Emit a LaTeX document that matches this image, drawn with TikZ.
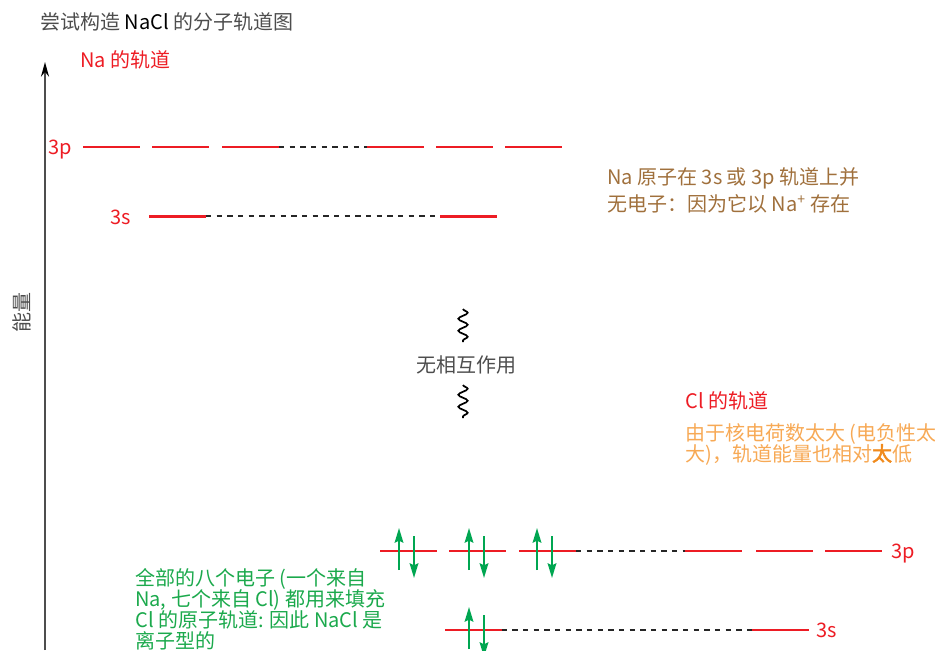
\documentclass[tikz,border=0pt]{standalone}
\usepackage{fontspec}
\setmainfont{Noto Sans CJK SC}
\newfontfamily\boldcjk{Noto Sans CJK SC}[FakeBold=2.5]
\usetikzlibrary{arrows.meta, decorations.pathmorphing}
\definecolor{OrbRed}{RGB}{237,28,36}
\definecolor{NoteBrown}{RGB}{160,112,60}
\definecolor{NoteOrange}{RGB}{247,169,85}
\definecolor{DeepOrange}{RGB}{240,138,28}
\definecolor{NoteGreen}{RGB}{27,169,76}
\definecolor{SpinGreen}{RGB}{0,166,81}
\definecolor{Grey70}{RGB}{77,77,77}

\begin{document}
\begin{tikzpicture}[
  x=0.75pt,
  y=-0.75pt,
  txt/.style={
    font=\fontsize{15}{15.75}\selectfont,
    inner sep=0pt,
    anchor=base west,
    align=left
  },
  bar/.style={
    rectangle,
    fill=OrbRed,
    minimum width=42.75pt,
    minimum height=1.5pt,
    inner sep=0pt,
    outer sep=0pt
  },
  thickbar/.style={bar, minimum height=2.25pt},
  nolink/.style={
    dash pattern=on 4pt off 4pt,
    line width=1.5pt,
    color=black!85
  },
  axis/.style={
    -{Stealth[length=11pt, width=6pt, color=black]},
    line width=1.5pt,
    color=Grey70
  },
  spin/.style={
    -{Stealth[length=11pt, width=6.5pt, inset=1.5pt]},
    line width=1.5pt,
    color=SpinGreen
  },
  wave/.style={
    decorate,
    decoration={snake, amplitude=3.5pt, segment length=9pt},
    line width=1.3pt
  }
]
\useasboundingbox (0,0) rectangle (935,650);

% Energy axis
\coordinate (axbot) at (45,650);
\coordinate (axtop) at (45,62);
\draw[axis] (axbot) -- (axtop);
\node[txt, text=Grey70, rotate=90, anchor=center] (energy) at (22,312) {能量};

% Titles
\node[txt, text=Grey70] (title)   at (40,29) {尝试构造 {\color{black}NaCl} 的分子轨道图};
\node[txt, text=OrbRed] (natitle) at (80,67) {Na 的轨道};

% Na orbitals
\node[bar] (na3pA) at (111,147)   {};
\node[bar] (na3pB) at (180.5,147) {};
\node[bar] (na3pC) at (250.5,147) {};
\node[bar] (na3pD) at (395,147)   {};
\node[bar] (na3pE) at (464.5,147) {};
\node[bar] (na3pF) at (533.5,147) {};
\draw[nolink] (na3pC.east) -- (na3pD.west);
\node[txt, text=OrbRed, anchor=base] (na3plab) at (60,154) {3p};

\node[thickbar] (na3sA) at (177.5,216) {};
\node[thickbar] (na3sB) at (468,216)   {};
\draw[nolink] (na3sA.east) -- (na3sB.west);
\node[txt, text=OrbRed, anchor=base] (na3slab) at (121,224) {3s};

% note node: base = last line
\node[txt, text=NoteBrown, font=\fontsize{15}{20.25}\selectfont] (nanote) at (607,211)
  {Na 原子在 3s 或 3p 轨道上并\\无电子：因为它以 Na\textsuperscript{+} 存在};

% No interaction
\node[txt, text=Grey70, anchor=base] (noint) at (466,372) {无相互作用};
\coordinate (w1top) at (463,309);
\coordinate (w1bot) at (463,342);
\coordinate (w2top) at (463,385);
\coordinate (w2bot) at (463,418);
\draw[wave] (w1top) -- (w1bot);
\draw[wave] (w2top) -- (w2bot);

% Cl orbitals
\node[txt, text=OrbRed] (cltitle) at (685,408) {Cl 的轨道};
\node[txt, text=NoteOrange] (clnote) at (685,461)
  {由于核电荷数太大 (电负性太\\大)，轨道能量也相对{\boldcjk\color{DeepOrange}太}低};

\node[bar] (cl3pA) at (408.5,551) {};
\node[bar] (cl3pB) at (477.5,551) {};
\node[bar] (cl3pC) at (547.5,551) {};
\node[bar] (cl3pD) at (713.5,551) {};
\node[bar] (cl3pE) at (784.5,551) {};
\node[bar] (cl3pF) at (853.5,551) {};
\draw[nolink] (cl3pC.east) -- (cl3pD.west);
\node[txt, text=OrbRed, anchor=base] (cl3plab) at (903,558) {3p};

\node[bar] (cl3sA) at (473,630) {};
\node[bar] (cl3sB) at (780,630) {};
\draw[nolink] (cl3sA.east) -- (cl3sB.west);
\node[txt, text=OrbRed, anchor=base] (cl3slab) at (827,637) {3s};

% Electron pairs
\foreach \x/\y in {399/551, 469/551, 537/551, 469/630} {
  \draw[spin] (\x,\y+19) -- (\x,\y-23);
  \draw[spin] (\x+15,\y-15) -- (\x+15,\y+27);
}

\node[txt, text=NoteGreen] (ionic) at (135,648)
  {全部的八个电子 (一个来自\\Na, 七个来自 Cl) 都用来填充\\Cl 的原子轨道: 因此 NaCl 是\\离子型的};

\end{tikzpicture}
\end{document}
